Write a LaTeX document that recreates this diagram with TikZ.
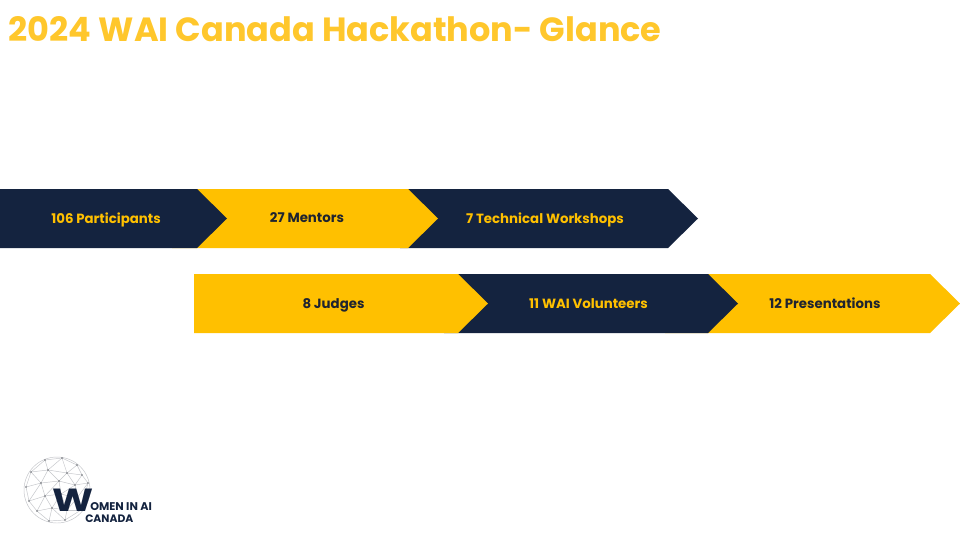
\documentclass[tikz,border=0pt]{standalone}
\usepackage{fontspec}
\setmainfont{Poppins}
\usetikzlibrary{calc}
\definecolor{navy}{HTML}{14233F}
\definecolor{gold}{HTML}{FFC000}
\definecolor{titlegold}{HTML}{FFC72C}
\definecolor{ink}{HTML}{1F2430}
\definecolor{wire}{HTML}{C4C6CA}
\definecolor{dotc}{HTML}{6E7177}
\tikzset{
  x=0.75pt,y=-0.75pt,
  navybar/.style={fill=navy,draw=none},
  goldbar/.style={fill=gold,draw=none},
  lab/.style={inner sep=0pt,font=\bfseries\fontsize{10}{11}\selectfont,anchor=base},
  onnavy/.style={lab,text=gold},
  ongold/.style={lab,text=ink},
}
\newcommand{\bararrow}[5]{% style, left, shoulder, top, bottom
  \fill[#1] (#2,#4) -- (#3,#4) -- ({#3+30},{(#4+#5)/2}) -- (#3,#5) -- (#2,#5) -- cycle;}
\begin{document}
\begin{tikzpicture}
\useasboundingbox (0,0) rectangle (960,540);
\fill[white] (0,0) rectangle (960,540);
\node[anchor=base west,inner sep=0pt,text=titlegold,font=\bfseries\fontsize{25.15}{28}\selectfont] (title) at (8.5,41) {2024 WAI Canada Hackathon- Glance};
% top row
\bararrow{navybar}{400}{668}{189}{248}
\fill[black!85] (172,188.6) rectangle (409,248.4);
\bararrow{goldbar}{172}{408}{189}{248}
\bararrow{navybar}{0}{197}{189}{248}
% bottom row
\bararrow{goldbar}{665}{930}{274}{333}
\bararrow{navybar}{444}{708}{274}{333}
\bararrow{goldbar}{194}{458}{274}{333}
\node[onnavy] (a) at (106,223.2) {106 Participants};
\node[ongold] (b) at (307,222.2) {27 Mentors};
\node[onnavy] (c) at (545,223.2) {7 Technical Workshops};
\node[ongold] (d) at (333.5,308.5) {8 Judges};
\node[onnavy] (e) at (588.5,308.5) {11 WAI Volunteers};
\node[ongold] (f) at (825,308.5) {12 Presentations};
% logo: wire globe
\begin{scope}[shift={(57,490)}]
  \foreach \n/\px/\py in {
    p1/-12/-30,p2/5/-32,p3/20/-25,p4/-26/-18,p5/-9/-20,p6/10/-17,p7/25/-15,
    p8/-31/-3,p9/-16/-7,p10/2/-9,p11/18/-5,p12/31/-7,p13/-28/11,p14/-12/6,
    p15/4/4,p16/20/8,p17/-20/21,p18/-5/18,p19/10/20,p20/-8/31,p21/8/30,p22/24/20}
    {\coordinate (\n) at (\px,\py);}
  \draw[wire,line width=0.35pt] (0,0) circle (33);
  \foreach \s/\t in {p1/p2,p2/p3,p1/p4,p1/p5,p2/p5,p2/p6,p3/p6,p3/p7,p4/p5,p5/p6,p6/p7,
    p4/p8,p4/p9,p5/p9,p5/p10,p6/p10,p6/p11,p7/p11,p7/p12,p8/p9,p9/p10,p10/p11,p11/p12,
    p8/p13,p9/p13,p9/p14,p10/p14,p10/p15,p11/p15,p11/p16,p12/p16,p13/p14,p14/p15,p15/p16,
    p13/p17,p14/p17,p14/p18,p15/p18,p15/p19,p16/p19,p16/p22,p17/p18,p18/p19,p19/p22,
    p17/p20,p18/p20,p18/p21,p19/p21,p20/p21,p21/p22,p12/p22}
    {\draw[wire,line width=0.35pt] (\s) -- (\t);}
  \foreach \n in {p1,p2,p3,p4,p5,p6,p7,p8,p9,p10,p11,p12,p13,p14,p15,p16,p17,p18,p19,p20,p21,p22}
    {\fill[dotc] (\n) circle (0.9);}
\end{scope}
\node[anchor=base,inner sep=0pt,text=navy,xscale=1.22,font=\bfseries\fontsize{24}{26}\selectfont] (w) at (73.5,511.5) {W};
\node[anchor=base west,inner sep=0pt,text=navy,font=\bfseries\fontsize{8.4}{9}\selectfont] (wm) at (90,510.5) {OMEN IN AI};
\node[anchor=base west,inner sep=0pt,text=navy,font=\bfseries\fontsize{8.1}{9}\selectfont] (cn) at (85,522.5) {CANADA};
\end{tikzpicture}
\end{document}
